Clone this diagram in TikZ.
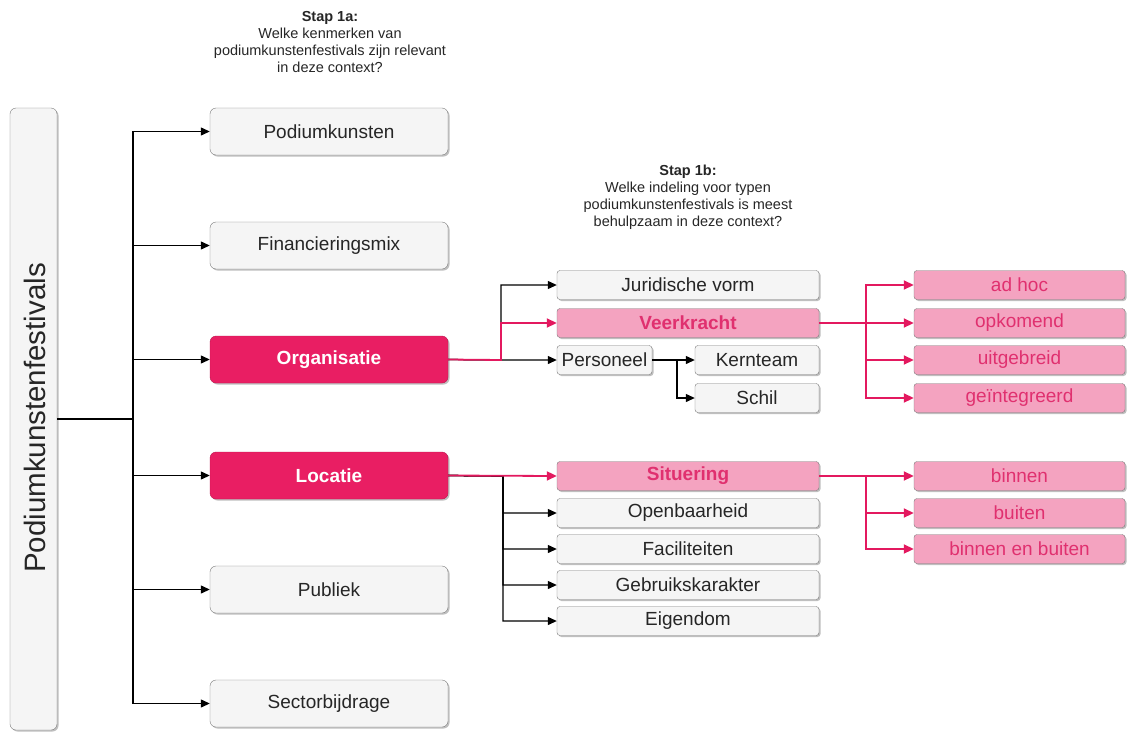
\documentclass[tikz,border=0pt]{standalone}
\usepackage{fontspec}
\setmainfont{Liberation Sans}
\usetikzlibrary{arrows.meta,shadows}
\definecolor{grayfill}{HTML}{F5F5F5}
\definecolor{grayline}{HTML}{7A7A7A}
\definecolor{crimson}{HTML}{E91E63}
\definecolor{linepink}{HTML}{E3195F}
\definecolor{lightpink}{HTML}{F4A3C0}
\definecolor{pinktext}{HTML}{E0306F}
\tikzset{
  shad/.style={drop shadow={shadow xshift=1.5pt,shadow yshift=-1.5pt,opacity=0.25,fill=black}},
  bigbox/.style={draw=grayline,fill=grayfill,rounded corners=6pt,minimum width=238pt,minimum height=47pt,inner sep=0pt,shad,font=\fontsize{19}{22}\selectfont,text=black!85},
  redbox/.style={bigbox,fill=crimson,draw=crimson!80!black,text=white,font=\fontsize{19}{22}\selectfont\bfseries},
  smallbox/.style={draw=grayline,fill=grayfill,rounded corners=3pt,minimum height=29pt,inner sep=0pt,shad,font=\fontsize{19}{22}\selectfont,text=black!85},
  pinkbox/.style={smallbox,fill=lightpink,text=pinktext},
  pinkbold/.style={pinkbox,font=\fontsize{19}{22}\selectfont\bfseries},
  conn/.style={line width=1.2pt,draw=black},
  arr/.style={conn,-{Triangle[length=9pt,width=8pt]}},
  parr/.style={conn,draw=linepink,line width=1.8pt,-{Triangle[length=10pt,width=9pt,fill=linepink]}},
  stap/.style={align=center,font=\fontsize{14.5}{17}\selectfont,text=black!85}
}
\begin{document}
\begin{tikzpicture}[x=1pt,y=-1pt]
\useasboundingbox (0,0) rectangle (1127,731);
% titles
\node[stap] (s1a) at (330,42) {\textbf{Stap 1a:}\\Welke kenmerken van\\podiumkunstenfestivals zijn relevant\\in deze context?};
\node[stap] (s1b) at (688,197.5) {\textbf{Stap 1b:}\\Welke indeling voor typen\\podiumkunstenfestivals is meest\\behulpzaam in deze context?};
% left box
\node[draw=grayline,fill=grayfill,rounded corners=6pt,minimum width=47pt,minimum height=622pt,inner sep=0pt,shad] (left) at (33.5,419) {};
\node[rotate=90,font=\fontsize{29.5}{33}\selectfont,text=black!85] (lefttxt) at (35,418) {Podiumkunstenfestivals};
% column 1
\node[bigbox] (pod) at (329,131.5) {Podiumkunsten};
\node[bigbox] (fin) at (329,245.5) {Financieringsmix};
\node[redbox] (org) at (329,359.5) {Organisatie};
\node[redbox] (loc) at (329,475.5) {Locatie};
\node[bigbox] (pub) at (329,589.5) {Publiek};
\node[bigbox] (sec) at (329,703.5) {Sectorbijdrage};
% column 2
\node[smallbox,minimum width=262pt] (jur) at (688,285) {Juridische vorm};
\node[pinkbold,minimum width=262pt] (veer) at (688,323) {Veerkracht};
\node[smallbox,minimum width=95pt] (pers) at (604.5,360) {Personeel};
\node[smallbox,minimum width=124pt] (kern) at (757,360) {Kernteam};
\node[smallbox,minimum width=124pt] (schil) at (757,398) {Schil};
\node[pinkbold,minimum width=262pt] (sit) at (688,476) {Situering};
\node[smallbox,minimum width=262pt] (open) at (688,513) {Openbaarheid};
\node[smallbox,minimum width=262pt] (fac) at (688,549) {Faciliteiten};
\node[smallbox,minimum width=262pt] (geb) at (688,585) {Gebruikskarakter};
\node[smallbox,minimum width=262pt] (eig) at (688,621) {Eigendom};
% column 3
\node[pinkbox,minimum width=211pt] (adhoc) at (1019.5,285) {ad hoc};
\node[pinkbox,minimum width=211pt] (opk) at (1019.5,323) {opkomend};
\node[pinkbox,minimum width=211pt] (uit) at (1019.5,360) {uitgebreid};
\node[pinkbox,minimum width=211pt] (gei) at (1019.5,398) {geïntegreerd};
\node[pinkbox,minimum width=211pt] (bin) at (1019.5,476) {binnen};
\node[pinkbox,minimum width=211pt] (bui) at (1019.5,513) {buiten};
\node[pinkbox,minimum width=211pt] (bnb) at (1019.5,549) {binnen en buiten};
% connectors: trunk
\coordinate (bj) at (133,419);
\foreach \t in {pod,fin,org,loc,pub,sec}{
  \draw[arr] (left.east) -- (bj) |- (\t.west);
}
% organisatie branch
\coordinate (bo) at (501,360);
\draw[arr] (org.east) -- (bo) |- (jur.west);
\draw[arr] (org.east) -- (bo) |- (pers.west);
\draw[parr] (org.east) -- (bo) |- (veer.west);
% personeel branch
\coordinate (bp) at (677,360);
\draw[arr] (pers.east) -- (bp) |- (kern.west);
\draw[arr] (pers.east) -- (bp) |- (schil.west);
% veerkracht branch
\coordinate (bv) at (866,323);
\foreach \t in {adhoc,opk,uit,gei}{
  \draw[parr] (veer.east) -- (bv) |- (\t.west);
}
% locatie branch
\coordinate (bl) at (503,476);
\foreach \t in {open,fac,geb,eig}{
  \draw[arr] (loc.east) -- (bl) |- (\t.west);
}
\draw[parr] (loc.east) -- (sit.west);
% situering branch
\coordinate (bs) at (866,476);
\foreach \t in {bin,bui,bnb}{
  \draw[parr] (sit.east) -- (bs) |- (\t.west);
}
\end{tikzpicture}
\end{document}
